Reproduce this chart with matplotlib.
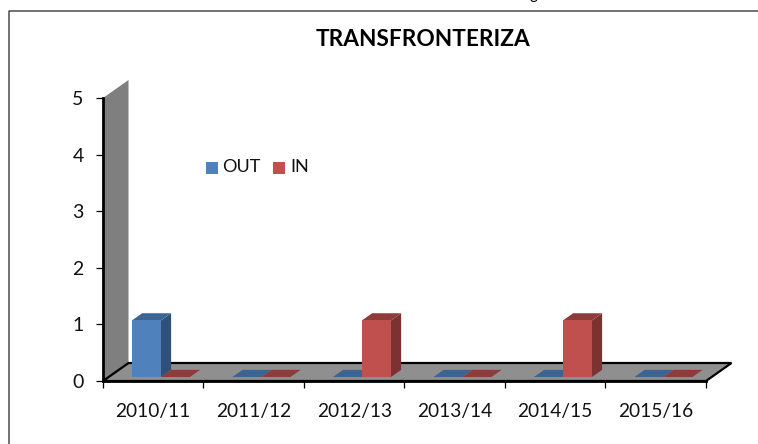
import matplotlib as mpl
import matplotlib.pyplot as plt
from matplotlib.patches import Polygon, Rectangle

mpl.rc("font", family=["Lato", "DejaVu Sans"])

W, H = 758, 444

# values
years = ["2010/11", "2011/12", "2012/13", "2013/14", "2014/15", "2015/16"]
out_vals = [1, 0, 0, 0, 0, 0]
in_vals = [0, 0, 1, 0, 1, 0]
yticks = [0, 1, 2, 3, 4, 5]

# box of the plot, in pixels
LEFT, RIGHT, TOP, BOTTOM = 103, 706, 98, 381
DEPTH_X = 25.5 / ((RIGHT - LEFT) / 6.0)
DEPTH_Y = 18 / ((BOTTOM - TOP) / 5.0)

BLUE = ("#4F81BD", "#2F5179", "#3B6493")
RED = ("#C0504D", "#7B3231", "#8E3B39")
WALL = "#7F7F7F"
FLOOR = "#8F8F8F"


def shift(x, y, depth):
    """Move a point from the front plane towards the back"""
    return x + depth * DEPTH_X, y + depth * DEPTH_Y


def draw_bar(ax, x, val, width, colors):
    """One 3D column: front, side and top face"""
    d0, d1 = 0.22, 0.62
    fx0, fy0 = shift(x, 0, d0)
    fx1, fy1 = shift(x + width, val, d0)
    bx0, by1 = shift(x, val, d1)
    bx1, by0 = shift(x + width, 0, d1)
    ax.add_patch(Polygon([(fx1, fy0), (bx1, by0), (bx1, by1), (fx1, fy1)],
                         fc=colors[1], ec="none", clip_on=False, zorder=3))
    ax.add_patch(Polygon([(fx0, fy1), (fx1, fy1), (bx1, by1), (bx0, by1)],
                         fc=colors[2], ec="none", clip_on=False, zorder=3))
    if val > 0:
        ax.add_patch(Rectangle((fx0, fy0), fx1 - fx0, fy1 - fy0,
                               fc=colors[0], ec="none", clip_on=False, zorder=4))


fig = plt.figure(figsize=(W / 100.0, H / 100.0), dpi=100, facecolor="white")

# chart frame, only its top and left edge are inside the crop
frame = fig.add_axes([0, 0, 1, 1], zorder=0)
frame.set_xlim(0, W)
frame.set_ylim(H, 0)
frame.axis("off")
frame.plot([8.5, 8.5, W], [H, 11, 11], color="#4A4A4A", lw=1.1)
# tail of a letter from the page above the chart
frame.text(534, -1.5, "g", fontsize=11, ha="center", va="baseline", color="black")

ax = fig.add_axes([LEFT / W, 1 - BOTTOM / H, (RIGHT - LEFT) / W, (BOTTOM - TOP) / H],
                  zorder=1)
ax.patch.set_visible(False)
ax.set_xlim(0, len(years))
ax.set_ylim(0, yticks[-1])

for s in ["top", "right"]:
    ax.spines[s].set_visible(False)
ax.spines["left"].set_linewidth(2)
ax.spines["bottom"].set_linewidth(2)
ax.spines["left"].set_zorder(6)
ax.spines["bottom"].set_zorder(6)

ax.set_xticks(range(len(years) + 1))
ax.set_xticklabels([])
ax.set_xticks([i + 0.5 for i in range(len(years))], minor=True)
ax.set_xticklabels(years, minor=True, fontsize=13.8, color="#111111")
ax.tick_params(axis="x", which="major", direction="out", length=5, width=0.9, pad=3)
ax.tick_params(axis="x", which="minor", length=0, pad=16)
ax.set_yticks(yticks)
ax.tick_params(axis="y", direction="out", length=5, width=0.9, labelsize=14, pad=9,
               labelcolor="#111111")

# side wall and floor
n = len(years)
ax.add_patch(Polygon([(0, 0), shift(0, 0, 1), shift(0, 5, 1), (0, 5)],
                     fc=WALL, ec="none", clip_on=False, zorder=1))
ax.add_patch(Polygon([(0, 0), shift(0, 0, 1), shift(n, 0, 1), (n, 0)],
                     fc=FLOOR, ec="black", lw=1.6, clip_on=False, zorder=2))

# columns
bar_w = 29 / ((RIGHT - LEFT) / 6.0)
for i in range(n):
    start = i + 0.232
    draw_bar(ax, start, out_vals[i], bar_w, BLUE)
    draw_bar(ax, start + bar_w, in_vals[i], bar_w, RED)

fig.text(423 / W, 1 - 40 / H, "TRANSFRONTERIZA", ha="center", va="center",
         fontsize=16.3, fontweight="bold", color="black")

# legend
frame.add_patch(Rectangle((206, 162), 12, 12, fc=BLUE[0], ec="none"))
frame.add_patch(Rectangle((273, 162), 12, 12, fc=RED[0], ec="none"))
frame.text(222, 167, "OUT", fontsize=13, va="center", color="#111111")
frame.text(290, 167, "IN", fontsize=13, va="center", color="#111111")

fig.savefig("out.png", dpi=100)
